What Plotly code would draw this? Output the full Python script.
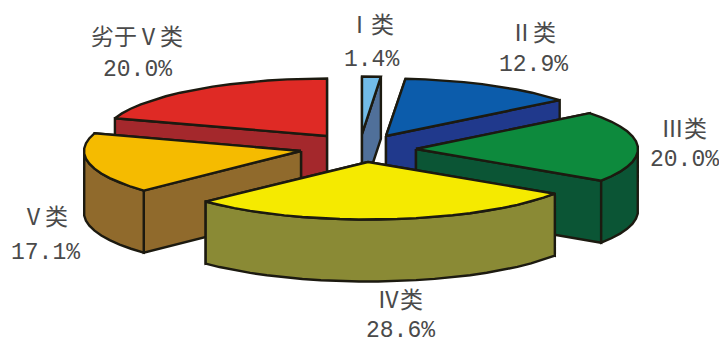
import plotly.graph_objects as go
import math

# Categories and their shares of the total, clockwise from 12 o'clock
categories = ["Ⅰ类", "Ⅱ类", "Ⅲ类", "Ⅳ类", "Ⅴ类", "劣于Ⅴ类"]
shares = [1.4, 12.9, 20.0, 28.6, 17.1, 20.0]

# Colours of each wedge's upper face and of its walls
top_colors = ["#72bce9", "#0c5cab", "#0d8a3d", "#f5ea00", "#f5bb00", "#df2a25"]
side_colors = ["#50709a", "#20398c", "#0b5535", "#8a8a35", "#906a2c", "#a4282c"]

# Exploded position of every wedge's tip on the page (pixels)
tips = [(362, 134), (386, 136), (416, 149), (368, 162), (301, 151), (327, 136)]
# Horizontal radius per wedge
radii = [215, 222, 222, 224, 217, 223]

# Projection of the tilted pie
RY = 57.5
WALL = 62
STEP_DEG = 5.0

# Label placement on the page: centre x, name line y, share line y
label_pos = [(371, 26, 60), (533, 34, 65), (684, 130, 160),
             (400, 301, 331), (45, 218, 253), (137, 38, 70)]
OUTLINE = "#1c1a10"
TEXT = "#4a4a4a"
FONT = "Liberation Mono, 'Noto Sans CJK SC', monospace"


def rim(tip, rx, deg):
    """Page position of the rim at a given clockwise angle, plus its depth."""
    t = math.radians(deg)
    return tip[0] + rx * math.sin(t), tip[1] - RY * math.cos(t), math.cos(t)


def add_poly(fig, pts, fill):
    xs = [p[0] for p in pts] + [pts[0][0]]
    ys = [p[1] for p in pts] + [pts[0][1]]
    fig.add_trace(go.Scatter(
        x=xs, y=ys, mode="lines", fill="toself", fillcolor=fill,
        line=dict(color=OUTLINE, width=2.4, shape="linear"),
        hoverinfo="skip", showlegend=False,
    ))


fig = go.Figure()

# Work out every wedge's angular span from its share
total = sum(shares)
spans = []
start = 0.0
for s in shares:
    end = start + 360.0 * s / total
    spans.append((start, end))
    start = end

# Far wedges first, near wedges over them
for i in [0, 1, 5, 2, 4, 3]:
    a0, a1 = spans[i]
    tip, rx = tips[i], radii[i]
    n = max(1, round((a1 - a0) / STEP_DEG))
    arc = [rim(tip, rx, a0 + (a1 - a0) * k / n) for k in range(n + 1)]

    # Cut faces, the one higher on the page first
    walls = []
    for x, y, _ in (arc[0], arc[-1]):
        walls.append([(tip[0], tip[1]), (x, y), (x, y + WALL), (tip[0], tip[1] + WALL)])
    walls.sort(key=lambda w: w[0][1] + w[1][1])
    for w in walls:
        add_poly(fig, w, side_colors[i])

    # Outer curved wall, only the part that faces the viewer
    front = [p for p in arc if p[2] < 0.12]
    if len(front) > 1:
        lower = [(x, y + WALL) for x, y, _ in reversed(front)]
        add_poly(fig, [(x, y) for x, y, _ in front] + lower, side_colors[i])

    # Upper face
    add_poly(fig, [tip] + [(x, y) for x, y, _ in arc], top_colors[i])

# Two-line labels: name and share
for name, s, (x, y0, y1) in zip(categories, shares, label_pos):
    for text, yy in ((name, y0), (f"{s:.1f}%", y1)):
        fig.add_annotation(
            x=x, y=yy, text=text, showarrow=False, borderpad=0,
            font=dict(family=FONT, size=23, color=TEXT),
        )

fig.update_xaxes(range=[0, 719], visible=False, fixedrange=True)
fig.update_yaxes(range=[345, 0], visible=False, fixedrange=True)
fig.update_layout(
    width=719, height=345, margin=dict(l=0, r=0, t=0, b=0),
    paper_bgcolor="white", plot_bgcolor="white", showlegend=False,
)
fig.write_html("out.html", config={"displayModeBar": False})
